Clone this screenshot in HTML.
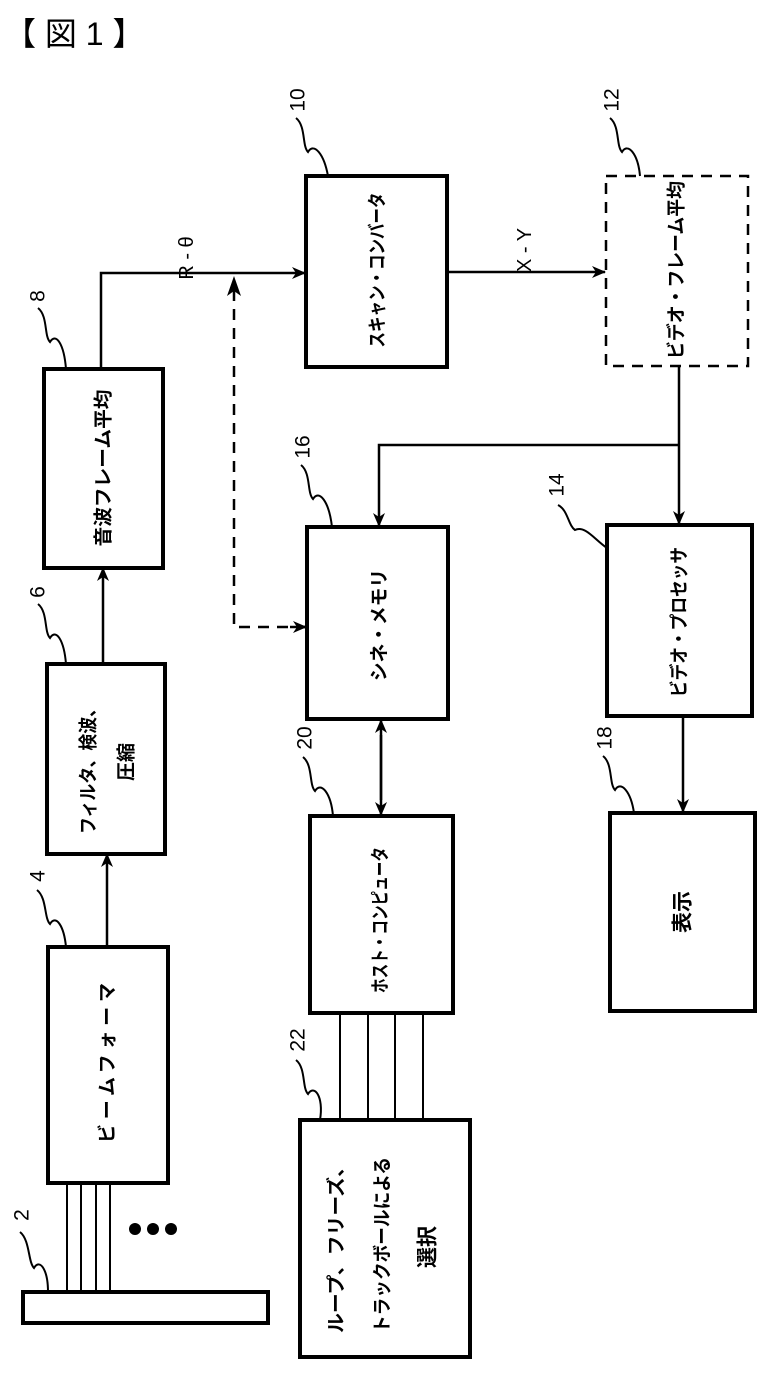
<!DOCTYPE html>
<html><head><meta charset="utf-8"><style>
html,body{margin:0;padding:0;background:#fff;}
svg{display:block;}
text{font-family:"Liberation Sans","Noto Sans CJK JP",sans-serif;fill:#000;}
.bx{fill:none;stroke:#000;stroke-width:4;}
.ln{fill:none;stroke:#000;stroke-width:2.5;}
.th{fill:none;stroke:#000;stroke-width:2;}
.ds{fill:none;stroke:#000;stroke-width:2.5;stroke-dasharray:11 8;}
.lb{font-size:19px;font-weight:bold;}
.nm{font-size:21px;}
</style></head><body>
<svg width="765" height="1373" viewBox="0 0 765 1373" xmlns="http://www.w3.org/2000/svg">
<defs>
<marker id="ah" markerWidth="14" markerHeight="12" refX="13" refY="6" orient="auto" markerUnits="userSpaceOnUse">
<path d="M0,0 L14,6 L0,12 L4,6 Z" fill="#000"/></marker>
</defs>
<text x="4" y="45" style="font-size:32px" font-family="Liberation Sans, Noto Sans CJK JP, sans-serif">【 図 1 】</text>

<rect class="bx" x="23" y="1292" width="245" height="31"/>
<rect class="bx" x="48" y="947" width="120" height="236"/>
<rect class="bx" x="47" y="664" width="118" height="190"/>
<rect class="bx" x="44" y="369" width="119" height="199"/>
<rect class="bx" x="306" y="176" width="141" height="191"/>
<rect class="ds" x="606" y="176" width="142" height="190"/>
<rect class="bx" x="307" y="527" width="141" height="192"/>
<rect class="bx" x="607" y="525" width="145" height="191"/>
<rect class="bx" x="310" y="816" width="143" height="197"/>
<rect class="bx" x="610" y="813" width="145" height="198"/>
<rect class="bx" x="300" y="1120" width="170" height="237"/>

<line class="th" x1="67" y1="1183" x2="67" y2="1292"/>
<line class="th" x1="81" y1="1183" x2="81" y2="1292"/>
<line class="th" x1="96" y1="1183" x2="96" y2="1292"/>
<line class="th" x1="110" y1="1183" x2="110" y2="1292"/>
<circle cx="135" cy="1229" r="6"/><circle cx="153" cy="1229" r="6"/><circle cx="171" cy="1229" r="6"/>

<line class="ln" x1="107" y1="947" x2="107" y2="854" marker-end="url(#ah)"/>
<line class="ln" x1="103" y1="664" x2="103" y2="568" marker-end="url(#ah)"/>
<polyline class="ln" points="101,369 101,273 305,273" marker-end="url(#ah)"/>
<polyline class="ds" points="307,627 234,627 234,290"/>
<path d="M227,296 L234,276 L241,296 L234,291 Z" fill="#000"/>
<line class="ln" x1="290" y1="627" x2="306" y2="627" marker-end="url(#ah)"/>
<line class="ln" x1="447" y1="272" x2="605" y2="272" marker-end="url(#ah)"/>
<line class="ln" x1="679" y1="366" x2="679" y2="524" marker-end="url(#ah)"/>
<polyline class="ln" points="679,445 379,445 379,526" marker-end="url(#ah)"/>
<line class="ln" x1="381" y1="735" x2="381" y2="815" marker-end="url(#ah)"/>
<line class="ln" x1="381" y1="800" x2="381" y2="720" marker-end="url(#ah)"/>
<line class="ln" x1="683" y1="716" x2="683" y2="812" marker-end="url(#ah)"/>
<line class="th" x1="340" y1="1013" x2="340" y2="1120"/>
<line class="th" x1="368" y1="1013" x2="368" y2="1120"/>
<line class="th" x1="395" y1="1013" x2="395" y2="1120"/>
<line class="th" x1="423" y1="1013" x2="423" y2="1120"/>

<g class="th">
<path d="M20,1232 C30,1240 28,1262 34,1268 C40,1258 48,1270 48,1292"/>
<path d="M37,890 C47,898 44,918 50,924 C56,914 64,926 66,947"/>
<path d="M38,604 C48,612 44,632 50,638 C56,628 64,640 66,664"/>
<path d="M38,308 C48,316 44,336 50,342 C56,332 64,344 66,369"/>
<path d="M296,118 C306,126 302,146 308,152 C314,142 324,154 328,176"/>
<path d="M610,118 C620,126 616,146 622,152 C628,142 638,154 640,176"/>
<path d="M301,465 C311,473 307,493 313,499 C319,489 329,501 332,527"/>
<path d="M558,505 C568,510 568,525 575,530 C585,525 595,540 607,548"/>
<path d="M303,757 C313,765 309,785 315,791 C321,781 331,793 333,816"/>
<path d="M603,756 C613,764 609,784 615,790 C621,780 631,792 634,813"/>
<path d="M296,1060 C306,1068 302,1088 308,1094 C314,1084 324,1096 320,1120"/>
</g>
<g class="nm" text-anchor="middle" dominant-baseline="central">
<text transform="translate(22,1215) rotate(-90)">2</text>
<text transform="translate(38,876) rotate(-90)">4</text>
<text transform="translate(38,592) rotate(-90)">6</text>
<text transform="translate(38,296) rotate(-90)">8</text>
<text transform="translate(298,100) rotate(-90)">10</text>
<text transform="translate(612,100) rotate(-90)">12</text>
<text transform="translate(303,447) rotate(-90)">16</text>
<text transform="translate(557,485) rotate(-90)">14</text>
<text transform="translate(305,738) rotate(-90)">20</text>
<text transform="translate(605,738) rotate(-90)">18</text>
<text transform="translate(298,1040) rotate(-90)">22</text>
<text transform="translate(187,258) rotate(-90)" style="font-size:20px">R - θ</text>
<text transform="translate(525,250) rotate(-90)" style="font-size:20px">X - Y</text>
</g>
<g class="lb" text-anchor="middle" dominant-baseline="central">
<text transform="translate(108,1063) rotate(-90)" textLength="160" lengthAdjust="spacing">ビームフォーマ</text>
<text transform="translate(89,767) rotate(-90)" textLength="134" lengthAdjust="spacingAndGlyphs">フィルタ、検波、</text>
<text transform="translate(127,762) rotate(-90)">圧縮</text>
<text transform="translate(104,468) rotate(-90)" textLength="157" lengthAdjust="spacingAndGlyphs">音波フレーム平均</text>
<text transform="translate(378,270) rotate(-90)" textLength="155" lengthAdjust="spacingAndGlyphs">スキャン・コンバータ</text>
<text transform="translate(677,270) rotate(-90)" textLength="178" lengthAdjust="spacingAndGlyphs">ビデオ・フレーム平均</text>
<text transform="translate(380,625) rotate(-90)" textLength="112" lengthAdjust="spacingAndGlyphs">シネ・メモリ</text>
<text transform="translate(680,622) rotate(-90)" textLength="150" lengthAdjust="spacingAndGlyphs">ビデオ・プロセッサ</text>
<text transform="translate(381,920) rotate(-90)" textLength="146" lengthAdjust="spacingAndGlyphs">ホスト・コンピュータ</text>
<text transform="translate(683,912) rotate(-90)" style="font-size:21px">表示</text>
<text transform="translate(337,1245) rotate(-90)" textLength="176" lengthAdjust="spacingAndGlyphs">ループ、フリーズ、</text>
<text transform="translate(383,1245) rotate(-90)" textLength="176" lengthAdjust="spacingAndGlyphs">トラックボールによる</text>
<text transform="translate(428,1247) rotate(-90)" style="font-size:21px">選択</text>
</g>
</svg>
</body></html>
